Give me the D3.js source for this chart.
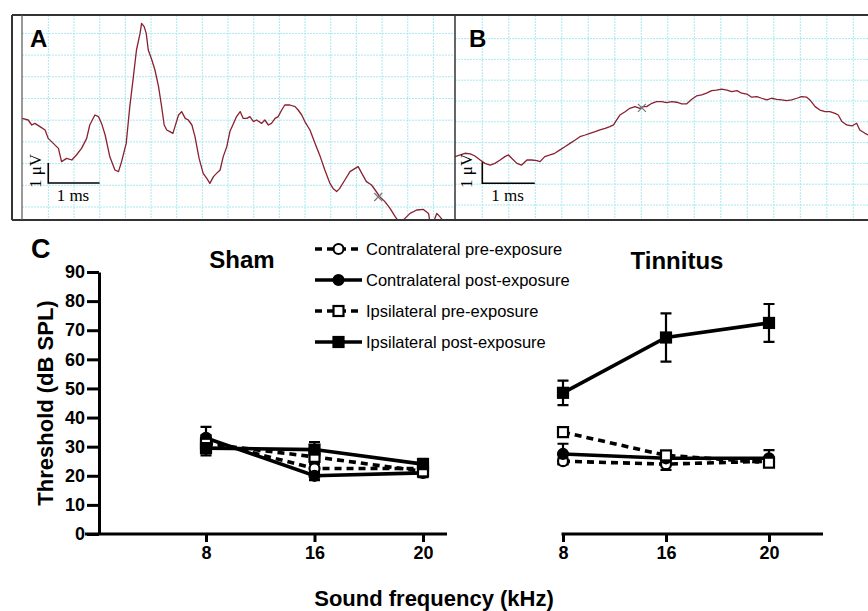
<!DOCTYPE html>
<html lang="en">
<head>
<meta charset="utf-8">
<title>ABR thresholds</title>
<script src="https://cdn.jsdelivr.net/npm/d3@7/dist/d3.min.js"></script>
<style>
  body { margin: 0; background: #fff; }
  svg { display: block; }
</style>
</head>
<body>
<script>
// ---- data ----
// panel A trace (time in ms from the left edge, amplitude in microvolts)
var traceA_t = [0,0.12,0.19,0.25,0.35,0.45,0.51,0.61,0.71,0.77,
  0.87,0.97,1.06,1.16,1.26,1.32,1.42,1.49,1.55,1.62,
  1.71,1.81,1.88,1.94,2.03,2.10,2.17,2.23,2.30,2.33,
  2.38,2.42,2.46,2.53,2.59,2.66,2.72,2.77,2.82,2.88,
  2.94,2.98,3.05,3.11,3.18,3.24,3.31,3.37,3.45,3.53,
  3.60,3.66,3.73,3.79,3.86,3.92,3.99,4.05,4.12,4.18,
  4.25,4.31,4.38,4.44,4.51,4.57,4.67,4.73,4.80,4.86,
  4.93,4.99,5.06,5.12,5.22,5.32,5.38,5.45,5.51,5.61,
  5.71,5.81,5.90,6.00,6.06,6.13,6.19,6.29,6.39,6.49,
  6.55,6.62,6.71,6.81,6.88,6.97,7.07,7.17,7.27,7.36,
  7.46,7.56,7.69,7.82,7.92,7.95,8.01,8.08,8.14,8.24];
var traceA_uV = [3.23,3.15,2.90,2.98,2.82,2.65,2.23,1.98,1.73,1.07,
  1.23,1.15,1.40,1.73,2.23,2.90,3.40,3.32,2.98,2.40,
  1.32,0.65,0.57,1.07,1.98,3.82,5.32,6.65,7.48,7.98,
  7.82,7.48,6.65,6.15,5.65,4.82,3.82,2.90,2.65,2.57,
  2.48,2.82,3.40,3.57,3.23,3.15,2.90,2.32,1.23,0.48,
  0.23,-0.02,0.32,0.48,0.65,1.32,1.82,2.57,2.98,3.32,
  3.57,3.23,3.23,3.32,3.07,3.15,2.98,3.15,2.90,2.98,
  3.23,3.32,3.65,3.90,3.90,3.82,3.65,3.40,3.07,2.65,
  1.98,1.32,0.65,-0.02,-0.27,-0.43,-0.27,0.15,0.57,0.73,
  0.82,0.48,0.07,-0.10,-0.35,-0.68,-0.93,-1.27,-1.68,-2.0,
  -1.77,-1.52,-1.35,-1.32,-1.52,-2.0,-2.0,-1.52,-1.68,-2.0];
// panel B trace
var traceB_t = [0,0.10,0.19,0.29,0.38,0.48,0.57,0.67,0.76,0.86,
  0.95,1.02,1.08,1.18,1.27,1.37,1.46,1.56,1.62,1.71,
  1.81,1.90,2.00,2.10,2.19,2.29,2.38,2.48,2.57,2.67,
  2.76,2.86,2.95,3.02,3.08,3.14,3.24,3.33,3.43,3.52,
  3.59,3.65,3.75,3.84,3.94,4.03,4.13,4.22,4.32,4.41,
  4.51,4.60,4.70,4.79,4.89,4.98,5.08,5.18,5.27,5.37,
  5.46,5.56,5.65,5.75,5.84,5.94,6.03,6.13,6.22,6.32,
  6.41,6.51,6.60,6.70,6.76,6.86,6.95,7.05,7.14,7.24,
  7.30,7.37,7.46,7.56,7.65,7.71,7.81,7.87];
var traceB_uV = [1.27,1.35,1.43,1.40,1.30,1.11,0.95,0.87,0.95,1.11,
  1.27,1.35,1.19,0.95,0.87,1.11,1.11,1.08,1.03,1.27,
  1.35,1.43,1.59,1.75,1.90,2.06,2.22,2.30,2.38,2.46,
  2.54,2.62,2.70,2.78,3.02,3.25,3.41,3.57,3.65,3.57,
  3.65,3.65,3.81,3.89,3.89,3.84,3.89,3.86,3.78,3.78,
  4.00,4.16,4.21,4.29,4.41,4.44,4.48,4.44,4.37,4.41,
  4.29,4.25,4.10,4.13,4.05,3.97,4.05,4.00,3.97,3.94,
  3.97,4.05,4.13,4.10,3.97,3.65,3.49,3.41,3.41,3.33,
  3.25,2.94,2.78,2.73,2.86,2.54,2.38,2.30];
// cursor marks on the traces [ms, uV]
var cursorA = [6.94, -0.70];
var cursorB = [3.56, 3.59];

// panel C
var freqs = ["8", "16", "20"];
var seriesNames = ["Contralateral pre-exposure", "Contralateral post-exposure",
                   "Ipsilateral pre-exposure", "Ipsilateral post-exposure"];
var yTicks = [0, 10, 20, 30, 40, 50, 60, 70, 80, 90];

var shamContraPre  = [32, 22.5, 22.5];
var shamContraPost = [33, 20, 21];
var shamIpsiPre    = [31, 26.5, 21.5];
var shamIpsiPost   = [29.5, 29, 24];
var shamContraPreSem  = [2, 1.5, 1.5];
var shamContraPostSem = [3.8, 1.5, 1.5];
var shamIpsiPreSem    = [2, 2, 1.5];
var shamIpsiPostSem   = [2.5, 2.6, 1.8];

var tinContraPre  = [25, 24, 25];
var tinContraPost = [27.5, 26, 26];
var tinIpsiPre    = [35, 27, 24.5];
var tinIpsiPost   = [48.5, 67.5, 72.5];
var tinContraPreSem  = [1, 2, 1];
var tinContraPostSem = [3.5, 1.5, 2.8];
var tinIpsiPreSem    = [0.8, 1, 1];
var tinIpsiPostSem   = [4.2, 8.3, 6.5];

// ---- drawing ----
var W = 868, H = 611;
var sans = "Liberation Sans, Arial, Helvetica, sans-serif";
var serif = "Liberation Serif, Times New Roman, serif";
var traceColor = "#8a2030";
var gridColor = "#a9e9ef";

var svg = d3.select("body").append("svg")
  .attr("width", W).attr("height", H);

// ---------- top panels (A, B) ----------
var panelTop = 15, panelBottom = 220;
var defs = svg.append("defs");
defs.append("clipPath").attr("id", "clipA").append("rect")
  .attr("x", 22).attr("y", panelTop).attr("width", 455 - 22).attr("height", panelBottom - panelTop);
defs.append("clipPath").attr("id", "clipB").append("rect")
  .attr("x", 455).attr("y", panelTop).attr("width", W - 455).attr("height", panelBottom - panelTop);

function gridLines(g, xs, ys, x0, x1) {
  g.selectAll("line.v").data(xs).enter().append("line")
    .attr("x1", function(d) { return d; }).attr("x2", function(d) { return d; })
    .attr("y1", panelTop).attr("y2", panelBottom)
    .attr("stroke", gridColor).attr("stroke-width", 1).attr("stroke-dasharray", "2,1");
  g.selectAll("line.h").data(ys).enter().append("line")
    .attr("x1", x0).attr("x2", x1)
    .attr("y1", function(d) { return d; }).attr("y2", function(d) { return d; })
    .attr("stroke", gridColor).attr("stroke-width", 1).attr("stroke-dasharray", "2,1");
}

// grid A
var gA = svg.append("g");
gridLines(gA, d3.range(1, 17).map(function(k) { return 22.7 + k * 25.67; }),
  d3.range(0, 9).map(function(k) { return 207 - k * 21.7; }), 22, 455);
// grid B
var gB = svg.append("g");
gridLines(gB, d3.range(0, 15).map(function(k) { return 482.3 + k * 26.5; }),
  d3.range(0, 9).map(function(k) { return 205 - k * 20.8; }), 455, W);

// scales for the traces
var xA = d3.scaleLinear().domain([0, 1]).range([22, 22 + 51.33]);
var yA = d3.scaleLinear().domain([0, 1]).range([183, 163]);
var xB = d3.scaleLinear().domain([0, 1]).range([455, 455 + 52.5]);
var yB = d3.scaleLinear().domain([0, 1]).range([183.3, 162.3]);

function drawTrace(ts, vs, xs, ys, clip) {
  var pts = ts.map(function(t, i) { return [t, vs[i]]; });
  var line = d3.line().x(function(d) { return xs(d[0]); }).y(function(d) { return ys(d[1]); });
  svg.append("path").datum(pts)
    .attr("clip-path", "url(#" + clip + ")")
    .attr("d", line)
    .attr("fill", "none").attr("stroke", traceColor)
    .attr("stroke-width", 1.3).attr("stroke-linejoin", "round");
}
drawTrace(traceA_t, traceA_uV, xA, yA, "clipA");
drawTrace(traceB_t, traceB_uV, xB, yB, "clipB");

function drawCursor(c, xs, ys) {
  var cx = xs(c[0]), cy = ys(c[1]);
  svg.append("path")
    .attr("d", "M" + (cx - 4) + "," + (cy - 4) + "L" + (cx + 4) + "," + (cy + 4) +
               "M" + (cx - 4) + "," + (cy + 4) + "L" + (cx + 4) + "," + (cy - 4))
    .attr("stroke", "#777").attr("stroke-width", 1.2);
}
drawCursor(cursorA, xA, yA);
drawCursor(cursorB, xB, yB);

// scale bars: 1 ms by 1 uV
function scaleBar(xs, ys, t0, labelX) {
  var x0 = xs(t0), x1 = xs(t0 + 1), y0 = ys(0), y1 = ys(1);
  svg.append("path")
    .attr("d", "M" + x0 + "," + y1 + "V" + y0 + "H" + x1)
    .attr("fill", "none").attr("stroke", "#000").attr("stroke-width", 1.6);
  svg.append("text")
    .attr("x", (x0 + x1) / 2 - 1).attr("y", y0 + 18)
    .attr("text-anchor", "middle")
    .attr("font-family", serif).attr("font-size", 17)
    .text("1 ms");
  svg.append("text")
    .attr("transform", "translate(" + labelX + "," + ((y0 + y1) / 2 - 2) + ") rotate(-90)")
    .attr("text-anchor", "middle")
    .attr("font-family", serif).attr("font-size", 17)
    .text("1 \u03bcV");
}
scaleBar(xA, yA, 0.512, 41);
scaleBar(xB, yB, 0.52, 472);

// frames
svg.append("line").attr("x1", 12).attr("x2", W).attr("y1", panelTop).attr("y2", panelTop)
  .attr("stroke", "#333").attr("stroke-width", 2);
svg.append("line").attr("x1", 12).attr("x2", W).attr("y1", panelBottom).attr("y2", panelBottom)
  .attr("stroke", "#333").attr("stroke-width", 2.2);
svg.append("line").attr("x1", 12).attr("x2", 12).attr("y1", panelTop).attr("y2", panelBottom)
  .attr("stroke", "#333").attr("stroke-width", 2);
svg.append("line").attr("x1", 22).attr("x2", 22).attr("y1", panelTop).attr("y2", panelBottom)
  .attr("stroke", "#555").attr("stroke-width", 1.2);
svg.append("line").attr("x1", 455).attr("x2", 455).attr("y1", panelTop).attr("y2", panelBottom)
  .attr("stroke", "#333").attr("stroke-width", 1.5);

svg.append("text").attr("x", 30).attr("y", 47)
  .attr("font-family", sans).attr("font-weight", "bold").attr("font-size", 24).text("A");
svg.append("text").attr("x", 469).attr("y", 47)
  .attr("font-family", sans).attr("font-weight", "bold").attr("font-size", 24).text("B");

// ---------- panel C ----------
var yC = d3.scaleLinear().domain([0, 90]).range([534, 272]);
var xSham = d3.scalePoint().domain(freqs).range([206, 423]);
var xTin = d3.scalePoint().domain(freqs).range([563, 769]);

function styleAxis(g) {
  g.selectAll("path, line").attr("stroke", "#000").attr("stroke-width", 3);
  g.selectAll("text")
    .attr("font-family", sans).attr("font-weight", "bold").attr("font-size", 18)
    .attr("fill", "#000");
}

// y axis (sham only)
var gy = svg.append("g").attr("transform", "translate(99,0)")
  .call(d3.axisLeft(yC).tickValues(yTicks).tickSize(12).tickSizeOuter(0).tickPadding(2));
styleAxis(gy);

// x axes
function xAxis(xs, lineFrom, lineTo) {
  svg.append("line")
    .attr("x1", lineFrom).attr("x2", lineTo)
    .attr("y1", yC(0)).attr("y2", yC(0))
    .attr("stroke", "#000").attr("stroke-width", 3);
  var g = svg.append("g").attr("transform", "translate(0," + yC(0) + ")")
    .call(d3.axisBottom(xs).tickSize(8).tickSizeOuter(0).tickPadding(4));
  g.select(".domain").remove();
  styleAxis(g);
}
xAxis(xSham, 85, 447);
xAxis(xTin, 561.5, 823);

// series
var styles = [
  { dash: "7,5", shape: "circle", fill: "#fff" },
  { dash: null, shape: "circle", fill: "#000" },
  { dash: "7,5", shape: "square", fill: "#fff" },
  { dash: null, shape: "square", fill: "#000" }
];

function marker(g, shape, fill, cx, cy) {
  if (shape === "circle") {
    g.append("circle").attr("cx", cx).attr("cy", cy).attr("r", 5)
      .attr("fill", fill).attr("stroke", "#000").attr("stroke-width", 2.2);
  } else {
    var s = 10;
    g.append("rect").attr("x", cx - s / 2).attr("y", cy - s / 2)
      .attr("width", s).attr("height", s)
      .attr("fill", fill).attr("stroke", "#000").attr("stroke-width", 2.2);
  }
}

function drawGroup(xs, means, sems) {
  var g = svg.append("g");
  means.forEach(function(m, si) {
    var st = styles[si];
    // error bars
    m.forEach(function(v, i) {
      var cx = xs(freqs[i]), e = sems[si][i];
      g.append("path")
        .attr("d", "M" + cx + "," + yC(v + e) + "V" + yC(v - e) +
                   "M" + (cx - 5.5) + "," + yC(v + e) + "H" + (cx + 5.5) +
                   "M" + (cx - 5.5) + "," + yC(v - e) + "H" + (cx + 5.5))
        .attr("fill", "none").attr("stroke", "#000").attr("stroke-width", 2.2);
    });
    var line = d3.line()
      .x(function(d, i) { return xs(freqs[i]); })
      .y(function(d) { return yC(d); });
    g.append("path").datum(m).attr("d", line)
      .attr("fill", "none").attr("stroke", "#000").attr("stroke-width", 3.6)
      .attr("stroke-dasharray", st.dash);
  });
  means.forEach(function(m, si) {
    var st = styles[si];
    m.forEach(function(v, i) {
      marker(g, st.shape, st.fill, xs(freqs[i]), yC(v));
    });
  });
}

drawGroup(xSham,
  [shamContraPre, shamContraPost, shamIpsiPre, shamIpsiPost],
  [shamContraPreSem, shamContraPostSem, shamIpsiPreSem, shamIpsiPostSem]);
drawGroup(xTin,
  [tinContraPre, tinContraPost, tinIpsiPre, tinIpsiPost],
  [tinContraPreSem, tinContraPostSem, tinIpsiPreSem, tinIpsiPostSem]);

// legend
var legend = svg.append("g");
var legendY = d3.scalePoint().domain(seriesNames).range([249, 342]);
seriesNames.forEach(function(name, i) {
  var st = styles[i], y = legendY(name);
  legend.append("line").attr("x1", 315).attr("x2", 362).attr("y1", y).attr("y2", y)
    .attr("stroke", "#000").attr("stroke-width", 3.4).attr("stroke-dasharray", st.dash);
  marker(legend, st.shape, st.fill, 338.5, y);
  legend.append("text").attr("x", 366).attr("y", y + 5.5)
    .attr("font-family", sans).attr("font-size", 16.5).text(name);
});

// titles
svg.append("text").attr("x", 31).attr("y", 258)
  .attr("font-family", sans).attr("font-weight", "bold").attr("font-size", 27).text("C");
svg.append("text").attr("x", 242).attr("y", 268).attr("text-anchor", "middle")
  .attr("font-family", sans).attr("font-weight", "bold").attr("font-size", 24).text("Sham");
svg.append("text").attr("x", 677).attr("y", 269).attr("text-anchor", "middle")
  .attr("font-family", sans).attr("font-weight", "bold").attr("font-size", 24).text("Tinnitus");
svg.append("text")
  .attr("transform", "translate(53,403) rotate(-90)").attr("text-anchor", "middle")
  .attr("font-family", sans).attr("font-weight", "bold").attr("font-size", 22)
  .text("Threshold (dB SPL)");
svg.append("text").attr("x", 434).attr("y", 606).attr("text-anchor", "middle")
  .attr("font-family", sans).attr("font-weight", "bold").attr("font-size", 22)
  .text("Sound frequency (kHz)");
</script>
</body>
</html>
